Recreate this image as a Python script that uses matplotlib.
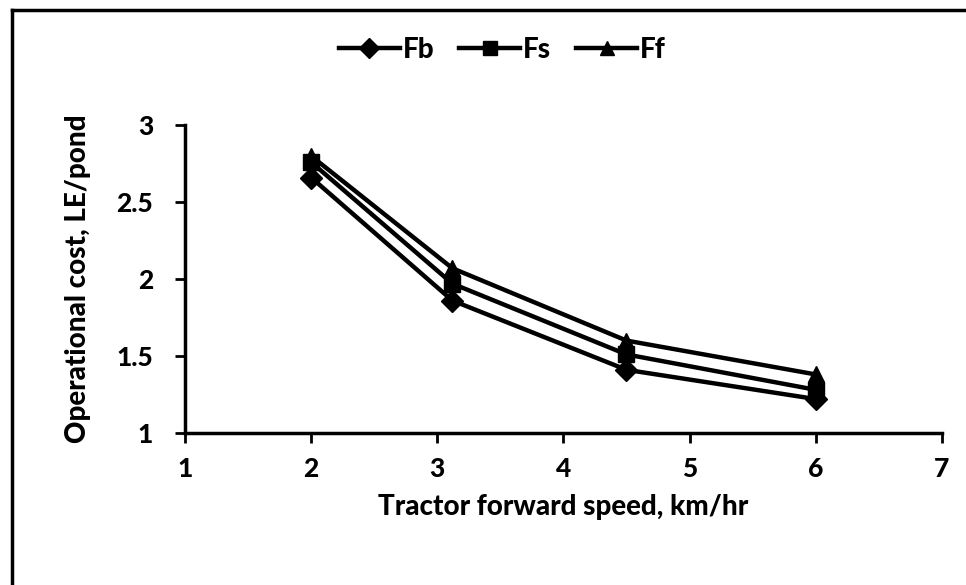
import matplotlib.pyplot as plt
from matplotlib.lines import Line2D

plt.rcParams['font.family'] = ['Lato', 'DejaVu Sans']
plt.rcParams['font.weight'] = 'black'

speed = [2.0, 3.12, 4.5, 6.0]
fb = [2.66, 1.86, 1.41, 1.22]
fs = [2.76, 1.97, 1.51, 1.28]
ff = [2.80, 2.07, 1.60, 1.38]
names = ["Fb", "Fs", "Ff"]
xticks = [1, 2, 3, 4, 5, 6, 7]
yticks = [1, 1.5, 2, 2.5, 3]
ytick_labels = ["1", "1.5", "2", "2.5", "3"]

fig = plt.figure(figsize=(9.66, 5.85), dpi=100)
ax = fig.add_axes([0.1915, 0.26, 0.7835, 0.526])

markers = ["D", "s", "^"]
for vals, name, m in zip([fb, fs, ff], names, markers):
    ax.plot(speed, vals, color="black", lw=3.2, marker=m, markersize=11,
            label=name)

ax.set_xlim(1, 7)
ax.set_ylim(1, 3)
ax.set_xticks(xticks)
ax.set_yticks(yticks)
ax.set_yticklabels(ytick_labels)
for s in ["top", "right"]:
    ax.spines[s].set_visible(False)
for s in ["left", "bottom"]:
    ax.spines[s].set_linewidth(2.5)
ax.tick_params(axis="x", width=2, length=7, labelsize=19, pad=10)
ax.tick_params(axis="y", width=2, length=7, labelsize=19, pad=16)
for lab in ax.get_xticklabels() + ax.get_yticklabels():
    lab.set_fontweight("black")

ax.set_xlabel("Tractor forward speed, km/hr", fontsize=20, fontweight="black", labelpad=10)
ax.set_ylabel("Operational cost, LE/pond", fontsize=20, fontweight="black", labelpad=18)

fig.legend(loc="center", bbox_to_anchor=(0.52, 0.915), ncol=3, frameon=False,
           handlelength=2.2, handletextpad=0.1, columnspacing=0.9,
           markerscale=0.9, prop={"weight": "black", "size": 20})

# outer border (top and left only visible)
fig.add_artist(Line2D([0.012, 1.0], [0.983, 0.983], color="black", lw=2.5,
                      transform=fig.transFigure))
fig.add_artist(Line2D([0.012, 0.012], [0.0, 0.983], color="black", lw=2.5,
                      transform=fig.transFigure))

plt.savefig("out.png", dpi=100)
